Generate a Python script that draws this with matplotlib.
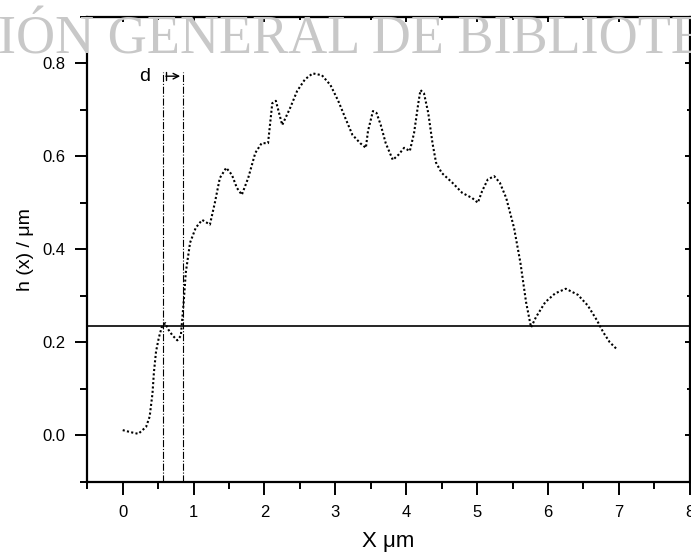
import matplotlib.pyplot as plt
from matplotlib.ticker import MultipleLocator

plt.rcParams['font.family'] = ['Liberation Sans', 'DejaVu Sans']

# profile h(x)
x_um = [0.00, 0.10, 0.22, 0.33, 0.38, 0.42, 0.44, 0.47, 0.51, 0.55, 0.60, 0.64, 0.70, 0.77,
        0.82, 0.86, 0.89, 0.95, 1.03, 1.12, 1.23, 1.30, 1.37, 1.46, 1.54, 1.61, 1.68, 1.77,
        1.87, 1.96, 2.05, 2.11, 2.16, 2.25, 2.36, 2.46, 2.57, 2.68, 2.81, 2.93, 3.04, 3.14,
        3.24, 3.35, 3.43, 3.46, 3.53, 3.58, 3.64, 3.71, 3.81, 3.89, 3.97, 4.05, 4.11, 4.17,
        4.20, 4.25, 4.31, 4.37, 4.42, 4.50, 4.65, 4.79, 4.93, 5.01, 5.07, 5.15, 5.24, 5.32,
        5.41, 5.52, 5.61, 5.69, 5.76, 5.83, 5.96, 6.10, 6.25, 6.42, 6.56, 6.69, 6.78, 6.87,
        6.97]
h_um = [0.011, 0.007, 0.003, 0.018, 0.040, 0.090, 0.135, 0.180, 0.210, 0.232, 0.241, 0.228,
        0.215, 0.204, 0.214, 0.286, 0.350, 0.414, 0.446, 0.463, 0.453, 0.500, 0.553, 0.575,
        0.560, 0.532, 0.517, 0.553, 0.607, 0.628, 0.628, 0.714, 0.719, 0.667, 0.703, 0.740,
        0.765, 0.778, 0.774, 0.753, 0.719, 0.682, 0.646, 0.628, 0.618, 0.654, 0.697, 0.693,
        0.667, 0.628, 0.592, 0.603, 0.618, 0.611, 0.650, 0.714, 0.742, 0.735, 0.693, 0.628,
        0.586, 0.564, 0.543, 0.521, 0.510, 0.500, 0.525, 0.550, 0.557, 0.543, 0.510, 0.446,
        0.371, 0.286, 0.232, 0.254, 0.286, 0.305, 0.315, 0.302, 0.279, 0.247, 0.221, 0.200,
        0.185]

h_level = 0.235          # horizontal reference level
d_edges = [0.57, 0.85]   # the two dash-dot lines marking d
d_top = 0.78
arrow_y = 0.772

fig = plt.figure(figsize=(6.91, 5.55), dpi=100)
ax = fig.add_axes([0.1263, 0.132, 0.872, 0.838])

ax.plot(x_um, h_um, color='black', lw=1.5, ls=(0, (1, 1.1)))
ax.axhline(h_level, color='black', lw=1.2)
ax.vlines(d_edges, -0.1, d_top, colors='black', linestyles='-.', lw=0.8)

ax.annotate('', xy=(d_edges[1], arrow_y), xytext=(d_edges[0], arrow_y),
            arrowprops=dict(arrowstyle=']->,widthA=0.3,lengthA=0', color='black', lw=1))
ax.text(0.31, arrow_y, 'd', fontsize=14, ha='center', va='center')

ax.set_xlim(-0.5, 8)
ax.set_ylim(-0.1, 0.9)
ax.xaxis.set_major_locator(MultipleLocator(1))
ax.xaxis.set_minor_locator(MultipleLocator(0.5))
ax.yaxis.set_minor_locator(MultipleLocator(0.1))
ax.set_yticks([0.0, 0.2, 0.4, 0.6, 0.8])
ax.set_yticklabels(['0.0', '0.2', '0.4', '0.6', '0.8'])

ax.tick_params(which='both', direction='out', width=1.4, labelsize=12, top=False, right=False)
ax.tick_params(which='major', length=9)
ax.tick_params(which='minor', length=5)
ax.tick_params(axis='y', pad=7)
ax.tick_params(axis='x', pad=8)
sec_x = ax.secondary_xaxis('top')
sec_x.xaxis.set_minor_locator(MultipleLocator(0.5))
sec_x.tick_params(which='both', direction='in', labeltop=False, width=1.4)
sec_y = ax.secondary_yaxis('right')
sec_y.yaxis.set_minor_locator(MultipleLocator(0.1))
sec_y.tick_params(which='both', direction='in', labelright=False, width=1.4)
for s in ax.spines.values():
    s.set_linewidth(1.6)

ax.set_xlabel('X μm', fontsize=16, labelpad=8)
ax.set_ylabel('h (x) / μm', fontsize=14, labelpad=6)

# scanner watermark across the top
fig.text(-0.003, 0.928, 'IÓN GENERAL DE BIBLIOTECA', family='Liberation Serif',
         fontsize=39, color='#c8c8c8', ha='left', va='center', zorder=10)

fig.savefig('out.png', dpi=100)
